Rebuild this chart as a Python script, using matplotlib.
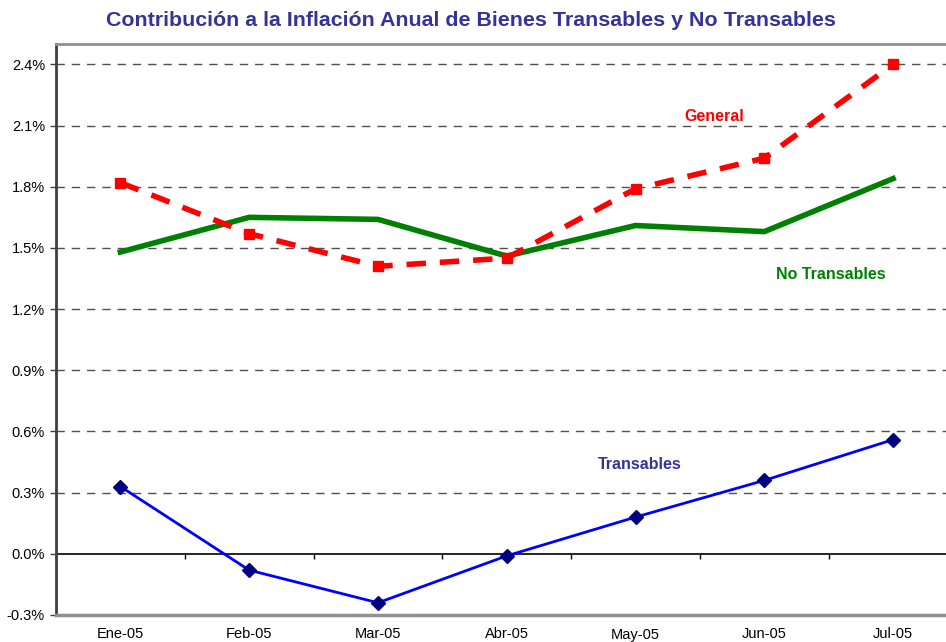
import matplotlib
matplotlib.use('Agg')
import matplotlib.pyplot as plt
import numpy as np

plt.rcParams['font.family'] = ['Liberation Sans', 'DejaVu Sans']

# data (% contribution)
meses = ['Ene-05', 'Feb-05', 'Mar-05', 'Abr-05', 'May-05', 'Jun-05', 'Jul-05']
general = [1.82, 1.57, 1.41, 1.45, 1.79, 1.94, 2.40]
no_transables = [1.48, 1.65, 1.64, 1.46, 1.61, 1.58, 1.84]
transables = [0.33, -0.08, -0.24, -0.01, 0.18, 0.36, 0.56]
yticks = [-0.3, 0.0, 0.3, 0.6, 0.9, 1.2, 1.5, 1.8, 2.1, 2.4]

x = np.arange(len(meses))

fig = plt.figure(figsize=(9.46, 6.42), dpi=100)
ax = fig.add_axes([56/946, 27/642, 901.5/946, 571/642])

ax.plot(x, general, color='#ff0000', lw=4, ls=(0, (3.5, 2.5)), marker='s', ms=7, zorder=4)
ax.plot(x, no_transables, color='#008000', lw=4, zorder=3)
ax.plot(x, transables, color='#0000ff', lw=2, marker='D', ms=7.5,
        markerfacecolor='#000080', markeredgecolor='#000080', zorder=5)

ax.set_xlim(-0.5, len(meses) - 0.5)
ax.set_ylim(-0.3, 2.5)
ax.set_yticks(yticks)
ax.set_yticklabels(['%.1f%%' % v for v in yticks], fontsize=10.5)
ax.set_xticks(x)
ax.set_xticklabels(meses, fontsize=10.5)
ax.tick_params(axis='x', length=0, pad=9)
ax.tick_params(axis='y', length=4, width=1, color='#404040', pad=4)

for v in yticks[2:]:
    ax.axhline(v, color='#505050', lw=1, ls=(0, (6, 5)), zorder=1)
ax.axhline(0, color='black', lw=1.2, zorder=2)
ax.vlines(np.arange(len(meses) + 1) - 0.5, -0.025, 0, color='black', lw=1, zorder=2)

ax.spines['left'].set_color('#404040')
ax.spines['left'].set_linewidth(2)
ax.spines['top'].set_color('#909090')
ax.spines['top'].set_linewidth(2)
ax.spines['bottom'].set_color('#909090')
ax.spines['bottom'].set_linewidth(2.5)
ax.spines['right'].set_visible(False)

ax.text(4.61, 2.146, 'General', color='#ff0000', fontsize=11.5, fontweight='bold', ha='center', va='center')
ax.text(5.52, 1.37, 'No Transables', color='#008000', fontsize=11.5, fontweight='bold', ha='center', va='center')
ax.text(4.03, 0.44, 'Transables', color='#333399', fontsize=11.5, fontweight='bold', ha='center', va='center')

fig.text(471/946, 1 - 20/642, 'Contribución a la Inflación Anual de Bienes Transables y No Transables',
         color='#333399', fontsize=15.4, fontweight='bold', ha='center', va='center')

fig.savefig('out.png', dpi=100)
